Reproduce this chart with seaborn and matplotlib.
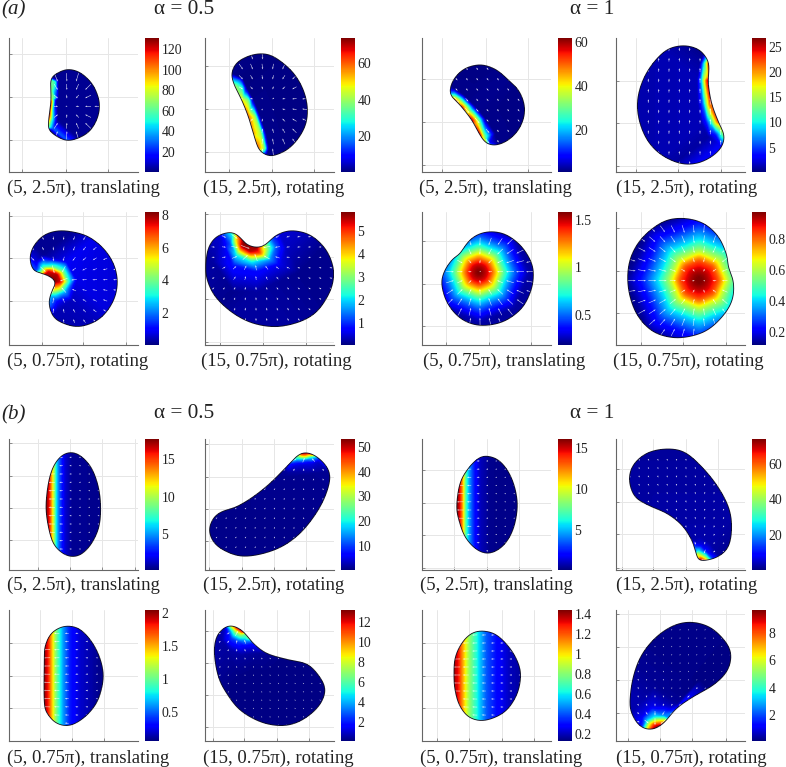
import numpy as np
import pandas as pd
import seaborn as sns
import matplotlib
matplotlib.use('Agg')
import matplotlib.pyplot as plt
import matplotlib.tri as mtri
from matplotlib.path import Path
from matplotlib.patches import PathPatch

W, H = 786, 767

# all shape/field points below were read off the picture, in units of 1/3 px
# block (a) top row
OUTLINE_A1 = [(153,238),(175,218),(203,208),(235,215),(262,235),(283,262),(297,300),(298,330),(290,360),(272,390),(245,410),(205,422),(175,412),(155,398),(145,385),(147,350),(153,300)]
FIELD_A1 = [(153,240,65),(153,270,68),(155,295,70),(152,305,125),(150,330,120),(147,355,110),(146,380,65),
            (166,245,55),(166,295,55),(168,300,5),(160,330,40),(158,355,50),(158,385,30),(175,240,3),(175,295,3),(172,330,3),(172,360,3),(153,232,2),(148,392,2)]
OUTLINE_A2 = [(695,225),(705,195),(730,175),(770,162),(810,165),(850,190),(885,225),(910,270),(922,320),(918,370),(895,415),(860,450),(815,468),(790,460),(775,445),(760,400),(745,350),(725,300),(705,260)]
FIELD_A2 = [(697,232,15),(705,258,40),(725,300,50),(745,350,60),(760,400,55),(775,445,60),(785,458,30),
            (720,240,15),(728,262,28),(746,300,35),(766,350,40),(783,400,40),(793,445,40),
            (727,235,0.5),(740,265,1),(760,300,1),(780,350,1),(797,400,1),(806,445,1),(800,463,1),(697,222,1)]
OUTLINE_A3 = [(150,270),(160,240),(185,212),(215,198),(250,195),(290,210),(325,240),(355,270),(372,310),(372,350),(355,390),(325,420),(290,435),(260,430),(240,405),(215,360),(180,315),(155,290)]
FIELD_A3 = [(152,278,15),(165,300,50),(185,322,57),(215,360,60),(240,405,58),(258,428,40),
            (165,285,25),(185,305,35),(205,335,40),(232,370,42),(255,410,30),(268,428,8),
            (160,265,1),(190,285,1),(225,320,1.5),(255,355,1),(285,400,1),(295,432,1)]
OUTLINE_A4 = [(920,175),(927,200),(925,250),(935,310),(955,365),(972,405),(965,440),(935,470),(890,490),(840,490),(785,465),(745,425),(720,370),(712,310),(725,250),(755,195),(800,150),(850,137),(895,148)]
FIELD_A4 = [(922,172,10),(926,190,24),(926,240,26.5),(935,305,26),(955,365,23),(972,405,14),(962,435,3),
            (918,240,22),(910,240,15),(902,240,7),(893,240,1.5),(920,190,18),(911,190,9),(900,190,1),
            (927,310,21),(917,310,13),(908,310,6),(895,310,1.5),(946,370,17),(932,370,9),(920,370,4),(905,370,1.5),
            (962,410,10),(948,405,4),(925,410,1),(912,160,0.5)]

# block (a) bottom row
OUTLINE_A5 = [(90,160),(100,125),(130,92),(170,78),(215,80),(265,95),(310,130),(340,175),(352,225),(345,275),(320,320),(285,350),(235,365),(190,355),(160,335),(147,295),(155,260),(167,232),(150,215),(125,205),(100,195)]
FIELD_A5 = [(125,205,5),(145,212,8),(165,230,8.2),(158,250,6),(150,270,3),(110,195,1.5),
            (145,198,7.5),(172,208,7.8),(183,230,7.5),(178,252,5),(165,270,3),
            (130,185,3.5),(160,185,3.8),(190,200,4),(205,230,3.5),(195,262,2.4),(175,290,0.9),
            (110,170,0.7),(150,160,0.7),(200,170,0.9),(230,225,0.8),(215,285,0.5),(170,320,0.4),(130,150,0.2)]
OUTLINE_A6 = [(617,190),(625,130),(650,95),(690,82),(715,92),(740,118),(770,127),(795,120),(830,90),(875,77),(930,90),(975,130),(998,180),(1000,225),(985,270),(950,320),(900,350),(830,365),(760,355),(700,325),(650,280),(625,235)]
FIELD_A6 = [(700,85,2.5),(715,95,4.8),(738,118,5.8),(770,128,5.7),(795,120,3.2),(815,100,1.2),
            (705,105,3.5),(725,125,5.5),(750,140,5.5),(780,145,4.8),(810,130,2.5),
            (690,115,1.2),(710,150,2.2),(755,170,2.2),(810,165,1.6),(830,125,1.2),(840,90,0.5),
            (670,120,0.6),(660,95,0.5),(700,180,0.9),(770,200,0.8),(840,180,0.6),(860,130,0.4),
            (640,170,0.25),(770,260,0.25),(900,200,0.15),(700,260,0.15)]
OUTLINE_A7 = [(125,235),(135,195),(160,160),(178,148),(205,110),(235,88),(275,80),(320,90),(365,125),(395,175),(400,220),(390,265),(365,310),(320,345),(270,360),(220,358),(175,335),(140,290)]
FIELD_A7 = [(237,202,1.62),
            (267,202,1.46),(258,223,1.46),(237,232,1.46),(216,223,1.46),(207,202,1.46),(216,181,1.46),(237,172,1.46),(258,181,1.46),
            (292,202,1.12),(276,241,1.12),(237,257,1.12),(198,241,1.12),(182,202,1.12),(198,163,1.12),(237,147,1.12),(276,163,1.12),
            (317,202,0.75),(294,259,0.75),(237,282,0.75),(180,259,0.75),(157,202,0.75),(180,145,0.75),(237,122,0.75),(294,145,0.75),
            (347,202,0.47),(315,280,0.47),(237,312,0.47),(159,280,0.47),(127,202,0.47),(159,124,0.47),(237,92,0.47),(315,124,0.47),
            (387,202,0.22),(343,308,0.22),(237,352,0.22),(131,308,0.22),(87,202,0.22),(131,96,0.22),(237,52,0.22),(343,96,0.22)]
OUTLINE_A8 = [(683,210),(695,150),(730,95),(790,50),(850,40),(910,55),(955,95),(980,150),(985,185),(1000,230),(998,280),(975,325),(930,370),(880,392),(820,398),(760,380),(715,335),(690,275)]
FIELD_A8 = [(897,225,0.99),
            (927,225,0.93),(918,246,0.93),(897,255,0.93),(876,246,0.93),(867,225,0.93),(876,204,0.93),(897,195,0.93),(918,204,0.93),
            (957,225,0.82),(939,267,0.82),(897,285,0.82),(855,267,0.82),(837,225,0.82),(855,183,0.82),(897,165,0.82),(939,183,0.82),
            (982,225,0.62),(957,285,0.62),(897,310,0.62),(837,285,0.62),(812,225,0.62),(837,165,0.62),(897,140,0.62),(957,165,0.62),
            (1017,225,0.43),(982,310,0.43),(897,345,0.43),(812,310,0.43),(777,225,0.43),(812,140,0.43),(897,105,0.43),(982,140,0.43),
            (1067,225,0.25),(1017,345,0.25),(897,395,0.25),(777,345,0.25),(727,225,0.25),(777,105,0.25),(897,55,0.25),(1017,105,0.25),
            (1117,225,0.13),(1052,380,0.13),(897,445,0.13),(742,380,0.13),(677,225,0.13),(742,70,0.13),(897,5,0.13),(1052,70,0.13)]

# block (b) top row
OUTLINE_B1 = [(138,320),(145,250),(160,200),(185,167),(215,157),(245,170),(275,205),(295,260),(302,320),(297,380),(275,430),(245,462),(215,470),(185,458),(160,430),(145,380)]
BAND_X_B1 = [100,138,148,155,162,170,180,195,215,420]
BAND_V_B1 = [17.5,17.5,16,13,10,6,3.5,1.5,0.5,0.3]
OUTLINE_B2 = [(628,390),(640,355),(665,335),(710,320),(760,290),(810,250),(860,200),(895,165),(920,158),(950,170),(980,200),(990,235),(975,290),(945,345),(900,400),(845,440),(780,463),(720,468),(670,450),(640,425)]
FIELD_B2 = [(895,167,30),(905,160,50),(920,158,52),(935,162,48),(950,172,15),(870,192,8),
            (915,170,35),(900,178,18),(890,183,12),(935,172,20),(920,180,12),
            (885,195,5),(910,192,5),(935,190,5),(955,185,4),
            (865,220,1.5),(900,215,2),(940,215,2),(985,215,1.2),(850,230,1),(850,205,2)]
OUTLINE_B5 = [(170,320),(180,250),(205,205),(235,175),(260,168),(295,180),(325,215),(345,265),(352,320),(342,380),(320,425),(290,452),(258,460),(225,445),(195,410),(178,365)]
BAND_X_B5 = [120,172,182,190,198,208,222,240,270,460]
BAND_V_B5 = [16,16,14,11,7,4.5,2.5,1,0.3,0.1]
OUTLINE_B6 = [(688,240),(700,195),(740,160),(795,147),(850,155),(900,195),(950,255),(985,320),(995,380),(985,440),(950,472),(900,482),(890,465),(875,420),(845,375),(800,340),(750,318),(705,290)]
FIELD_B6 = [(882,445,18),(888,465,50),(900,480,73),(920,482,55),(940,478,12),
            (900,465,45),(915,470,40),(895,450,25),(920,455,10),(905,435,7),(930,470,15),
            (880,420,3),(900,410,3),(930,430,3),(955,465,2)]

# block (b) bottom row
OUTLINE_B3 = [(133,200),(135,170),(150,135),(175,115),(205,108),(240,118),(275,155),(300,205),(310,260),(298,320),(275,360),(240,392),(205,407),(170,400),(145,375),(133,340)]
BAND_X_B3 = [100,133,145,153,165,175,190,210,240,300,420]
BAND_V_B3 = [2.0,2.0,1.8,1.55,1.15,0.9,0.6,0.35,0.2,0.08,0.07]
OUTLINE_B4 = [(643,190),(650,140),(675,112),(700,108),(730,125),(760,160),(800,190),(860,208),(920,222),(955,255),(975,295),(965,335),(935,370),(890,398),(840,407),(780,395),(720,360),(680,310),(655,260)]
FIELD_B4 = [(675,112,1),(695,108,9),(712,113,12.5),(730,125,12.5),(745,142,7),(760,160,2),
            (690,120,4),(705,125,7),(722,135,7),(735,150,4),
            (680,125,1.5),(695,145,2.5),(715,155,2.5),(735,170,1.5),(665,150,0.6),(690,180,0.6),(725,195,0.5),
            (780,190,0.4),(760,230,0.25),(800,250,0.2),(720,260,0.2),(860,200,0.2)]
OUTLINE_B7 = [(162,260),(165,205),(185,160),(215,130),(250,123),(290,135),(330,175),(355,220),(362,260),(352,310),(325,355),(290,380),(245,392),(205,380),(178,345),(165,300)]
BAND_X_B7 = [120,162,175,185,195,205,222,240,260,290,330,360,460]
BAND_V_B7 = [1.4,1.4,1.3,1.15,1.0,0.85,0.7,0.55,0.4,0.3,0.2,0.17,0.15]
OUTLINE_B8 = [(690,330),(700,260),(725,195),(770,140),(825,105),(880,97),(935,115),(980,160),(993,200),(980,245),(940,285),(880,320),(830,355),(790,400),(755,418),(720,408),(695,370)]
FIELD_B8 = [(725,410,1.5),(745,416,7),(762,417,9.5),(780,408,9.6),(795,395,7),(815,372,2.5),
            (745,405,6),(760,403,8),(780,390,6),(740,390,3),(765,380,3.5),(790,375,2.5),(812,355,0.9),
            (725,380,1),(755,350,1),(790,345,0.7),(720,340,0.5),
            (835,340,0.3),(860,310,0.2),(900,270,0.15),(850,250,0.2),(760,290,0.3)]

# colour ranges and colorbar ticks
RANGE_A = [(0.5,131),(0.4,74),(0.5,62),(0.15,26.8),(0.04,8.2),(0.07,5.8),(0.18,1.58),(0.12,0.97)]
RANGE_B = [(0.18,17.7),(0.3,53.2),(0.1,16.1),(0.3,73.9),(0.06,2.04),(0.13,13.2),(0.13,1.44),(0.1,9.66)]
TICKS_A = [[20,40,60,80,100,120],[20,40,60],[20,40,60],[5,10,15,20,25],[2,4,6,8],[1,2,3,4,5],[0.5,1,1.5],[0.2,0.4,0.6,0.8]]
TICKS_B = [[5,10,15],[10,20,30,40,50],[5,10,15],[20,40,60],[0.5,1,1.5,2],[2,4,6,8,10,12],[0.2,0.4,0.6,0.8,1,1.2,1.4],[2,4,6,8]]

CAPTIONS_A = ['(5, 2.5π), translating','(15, 2.5π), rotating','(5, 2.5π), translating','(15, 2.5π), rotating',
              '(5, 0.75π), rotating','(15, 0.75π), rotating','(5, 0.75π), translating','(15, 0.75π), rotating']
CAPTIONS_B = ['(5, 2.5π), translating','(15, 2.5π), rotating','(5, 2.5π), translating','(15, 2.5π), rotating',
              '(5, 0.75π), translating','(15, 0.75π), rotating','(5, 0.75π), translating','(15, 0.75π), rotating']

# grid line positions, same 1/3 px units
VGRID_A = [[67,197,325],[687,815,943],[127,257,385],[707,833,962],[125,250,378],[660,790,917],[138,268,394],[722,850,977]]
HGRID_A = [[163,292,420],[198,328,457],[238,367,495],[243,370,498],[33,160,288],[27,155,283,412],[108,236,364],[70,197,325]]
VGRID_B = [[115,210,307,405],[628,725,822,918],[163,260,358],[665,760,857,955],[120,217,313],[638,733,830,928],[110,208,305,403],[685,780,877,977]]
HGRID_B = [[130,227,323,420],[133,230,326,423],[210,308,405,503],[208,306,403,505],[160,257,355],[122,218,316,412],[160,258,355],[72,172,270,368]]

# arrow lattice: x0, y0, dx, dy, sink x, sink y, shortest, longest, radius for length (None = by field)
ARROWS_A = [(168,232,32,29,205,320,4,28,100),(723,168,32,32,800,310,3,22,150),(170,207,31,31,1200,1500,7,25,None),(745,148,31,31,880,-1500,8,22,None),
            (98,100,31,31,170,232,8,28,None),(640,95,32,31,760,135,5,28,None),(150,110,30,30,237,202,4,24,90),(695,72,31,31,900,225,3,24,110)]
ARROWS_B = [(155,172,28,25,-3000,320,3,22,None),(650,180,29,29,920,158,3,26,None),(180,183,27,24.5,-3000,320,3,22,None),(690,180,28,25,905,480,2,25,None),
            (140,130,30,24.5,-3000,255,3,22,None),(660,130,25,25,720,110,3,22,None),(170,135,27,24,-3000,255,3,22,None),(715,120,25,25,765,415,2,25,None)]


def band(xs, vs):
    # stripes that only change across x
    return [(x, y, v) for x, v in zip(xs, vs) for y in (-200, 1000)]


OUTLINES = [OUTLINE_A1, OUTLINE_A2, OUTLINE_A3, OUTLINE_A4, OUTLINE_A5, OUTLINE_A6, OUTLINE_A7, OUTLINE_A8,
            OUTLINE_B1, OUTLINE_B2, OUTLINE_B5, OUTLINE_B6, OUTLINE_B3, OUTLINE_B4, OUTLINE_B7, OUTLINE_B8]
FIELDS = [FIELD_A1, FIELD_A2, FIELD_A3, FIELD_A4, FIELD_A5, FIELD_A6, FIELD_A7, FIELD_A8,
          band(BAND_X_B1, BAND_V_B1), FIELD_B2, band(BAND_X_B5, BAND_V_B5), FIELD_B6,
          band(BAND_X_B3, BAND_V_B3), FIELD_B4, band(BAND_X_B7, BAND_V_B7), FIELD_B8]

# panel boxes in px
COL_X = [9, 205, 422, 616]
CBAR_X = [145, 341, 558, 752]
ROW_Y = [38, 212, 439, 610]
ROW_H = [134, 133, 131, 131]
CROP_X = [0, 0, 400, 400]
CROP_Y = [0, 205, 400, 590]
CAP_Y = [188, 361, 585, 758]
CAP_X = [[7, 203, 419, 616], [7, 201, 423, 613], [7, 203, 420, 616], [7, 203, 420, 616]]
PANEL_W = 129

sns.set_style('white')
plt.rcParams['font.family'] = ['Liberation Serif', 'DejaVu Serif']
TEXT = '#222222'


def smooth_curve(pts, n=10):
    # closed Catmull-Rom through the read points, then a light running mean to take out kinks
    p = np.array(pts, dtype=float)
    t = np.linspace(0, 1, n, endpoint=False)[:, None]
    out = []
    for i in range(len(p)):
        a, b, c, d = p[i-1], p[i], p[(i+1) % len(p)], p[(i+2) % len(p)]
        out.append(0.5*(2*b + (c-a)*t + (2*a-5*b+4*c-d)*t**2 + (3*b-a-3*c+d)*t**3))
    out = np.vstack(out)
    seg = np.hypot(*np.diff(np.vstack([out, out[0]]), axis=0).T)
    s = np.r_[0, np.cumsum(seg)]
    u = np.arange(0, s[-1], 2.0)
    closed = np.vstack([out, out[0]])
    even = np.c_[np.interp(u, s, closed[:, 0]), np.interp(u, s, closed[:, 1])]
    win = 11
    for _ in range(2):
        wrap = np.vstack([even[-win:], even, even[:win]])
        kernel = np.ones(win)/win
        even = np.c_[np.convolve(wrap[:, 0], kernel, mode='same'), np.convolve(wrap[:, 1], kernel, mode='same')][win:-win]
    return np.vstack([even, even[0]])


def soften(z, passes=1):
    kernel = np.array([1, 2, 1])/4
    pad = np.pad(z, 12, mode='edge')
    for _ in range(passes):
        pad = np.apply_along_axis(lambda r: np.convolve(r, kernel, mode='same'), 0, pad)
        pad = np.apply_along_axis(lambda r: np.convolve(r, kernel, mode='same'), 1, pad)
    return pad[12:-12, 12:-12]


def draw_panel(fig, k, outline, samples, vlim, ticks, vgrid, hgrid, arrow):
    row, col = k // 4, k % 4
    left, top, bh = COL_X[col], ROW_Y[row], ROW_H[row]
    bw = PANEL_W
    ax = fig.add_axes([left/W, 1-(top+bh)/H, bw/W, bh/H])
    cax = fig.add_axes([CBAR_X[col]/W, 1-(top+bh)/H, 13.5/W, bh/H])
    x0 = (left-CROP_X[col])*3
    y0 = (top-CROP_Y[row])*3

    lo, hi = vlim
    curve = smooth_curve(outline)
    pts = np.array(samples, dtype=float)

    # edge values carry on just past the outline so the softening does not eat them
    radial = k in (6, 7)
    if not radial:
        centre = curve.mean(axis=0)
        extra = []
        for x, y, v in pts:
            near = np.hypot(curve[:, 0]-x, curve[:, 1]-y).min() < 8
            if near and v > lo+0.2*(hi-lo):
                d = np.array([x, y])-centre
                q = np.array([x, y])+d/np.hypot(*d)*14
                extra.append((q[0], q[1], v))
        if extra:
            pts = np.vstack([pts, extra])

    corners = [(x0-600, y0-600, lo), (x0+1000, y0-600, lo), (x0-600, y0+1000, lo), (x0+1000, y0+1000, lo)]
    pts = np.vstack([pts, corners])
    tri = mtri.Triangulation(pts[:, 0], pts[:, 1])
    interp = mtri.LinearTriInterpolator(tri, pts[:, 2])
    gx, gy = np.meshgrid(x0+3*(np.arange(bw)+0.5), y0+3*(np.arange(bh)+0.5))
    z = soften(np.ma.filled(interp(gx, gy), lo), 8 if radial else 1)

    sns.heatmap(pd.DataFrame(z), ax=ax, cbar_ax=cax, cmap='jet', vmin=lo, vmax=hi,
                xticklabels=False, yticklabels=False, cbar_kws={'ticks': ticks})
    mesh = ax.collections[0]

    # shape
    local = (curve-[x0, y0])/3
    shape = PathPatch(Path(local), fc='none', ec='#101020', lw=0.6, zorder=3)
    ax.add_patch(shape)
    mesh.set_clip_path(shape)

    # arrows on a lattice, kept inside the shape
    ax0, ay0, dx, dy, sx, sy, lmin, lmax, rmax = arrow
    ax_x, ax_y = np.meshgrid(np.arange(ax0, x0+3*bw, dx), np.arange(ay0, y0+3*bh, dy))
    ax_x, ax_y = ax_x.ravel(), ax_y.ravel()
    keep = Path(curve).contains_points(np.c_[ax_x, ax_y])
    ax_x, ax_y = ax_x[keep], ax_y[keep]
    ux, uy = sx-ax_x, sy-ax_y
    r = np.hypot(ux, uy)
    if rmax is None:
        iv = np.clip((interp(ax_x, ax_y).filled(lo)-lo)/(hi-lo), 0, 1)
        ln = lmin+(lmax-lmin)*np.sqrt(iv)
    else:
        ln = lmin+(lmax-lmin)*np.clip(r/rmax, 0, 1)
    arr = ax.quiver((ax_x-x0)/3, (ax_y-y0)/3, ux/r*ln/3, uy/r*ln/3, angles='xy', scale_units='xy', scale=1,
                    units='xy', width=0.55, headwidth=3, headlength=4, headaxislength=3.5, pivot='mid',
                    color='white', alpha=0.85, zorder=2)
    arr.set_clip_path(shape)

    # axes dressing
    ax.set_axisbelow(True)
    ax.set_xticks([(v-x0)/3 for v in vgrid])
    ax.set_yticks([(v-y0)/3 for v in hgrid])
    ax.set_xticklabels([])
    ax.set_yticklabels([])
    ax.tick_params(length=2, width=0.5, color='#666666', direction='in', left=True, bottom=True)
    ax.grid(True, color='#e6e6e6', lw=0.7)
    for side in ('left', 'bottom'):
        ax.spines[side].set_visible(True)
        ax.spines[side].set_color('#666666')
        ax.spines[side].set_linewidth(0.8)
    for side in ('top', 'right'):
        ax.spines[side].set_visible(False)

    cax.set_yticks(ticks)
    cax.set_yticklabels(['%g' % t for t in ticks])
    cax.tick_params(length=0, pad=2.2, labelsize=9.9, labelcolor=TEXT, right=False, labelright=True)
    return ax


fig = plt.figure(figsize=(W/100, H/100), dpi=100)
ranges = RANGE_A+RANGE_B
ticks = TICKS_A+TICKS_B
vgrid = VGRID_A+VGRID_B
hgrid = HGRID_A+HGRID_B
arrows = ARROWS_A+ARROWS_B
captions = CAPTIONS_A+CAPTIONS_B

for k in range(16):
    draw_panel(fig, k, OUTLINES[k], FIELDS[k], ranges[k], ticks[k], vgrid[k], hgrid[k], arrows[k])
    fig.text(CAP_X[k//4][k % 4]/W, 1-CAP_Y[k//4]/H, captions[k], fontsize=13.5, color=TEXT, va='center', ha='left')

for label, y in (('(a)', 10), ('(b)', 415)):
    fig.text(1/W, 1-y/H, label, fontsize=15, style='italic', color=TEXT, va='center')
for y in (9, 414):
    fig.text(184/W, 1-y/H, 'α = 0.5', fontsize=15.3, color=TEXT, va='center', ha='center')
    fig.text(592/W, 1-y/H, 'α = 1', fontsize=15.3, color=TEXT, va='center', ha='center')

fig.savefig('out.png', dpi=100)
